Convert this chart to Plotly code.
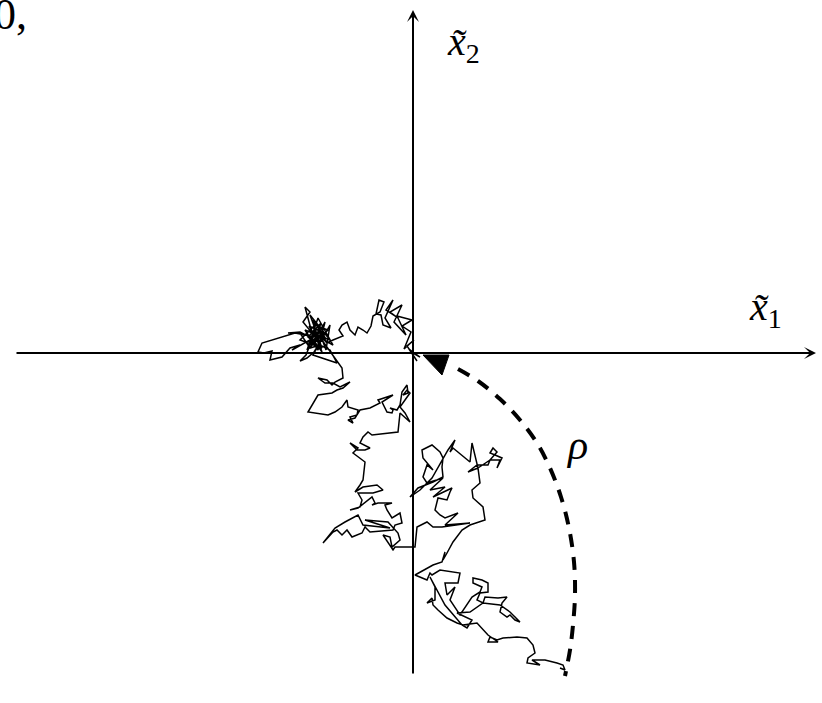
import plotly.graph_objects as go

# Sampled positions of the Brownian path (origin = crossing of the axes)
walk_pts = [
    (0, 0), (7, -4), (-4, 4), (4, -8), (-6, 7), (1, 13), (-9, 4), (-2, 21), (-11, 27), (-1, 33),
    (-16, 37), (-7, 18), (-19, 31), (-11, 48), (-23, 41), (-15, 35), (-27, 43), (-20, 53), (-28, 35),
    (-22, 25), (-30, 28), (-32, 38), (-37, 39), (-34, 53), (-29, 51), (-33, 41), (-40, 37), (-42, 27),
    (-46, 20), (-50, 23),
    (-55, 26), (-58, 18), (-63, 23), (-66, 31), (-71, 28), (-74, 23), (-70, 17), (-80, 13), (-86, 10),
    (-93, 18), (-101, 8), (-88, 31), (-95, 3), (-108, 23), (-83, 13), (-103, 38), (-91, 5), (-113, 13),
    (-98, 28), (-85, 23), (-106, 3), (-95, 35), (-80, 8), (-101, 20), (-108, 46), (-103, 41), (-110, 31),
    (-96, 14), (-104, 27), (-89, 20), (-99, 10), (-92, 30), (-105, 16), (-94, 6), (-100, 33), (-87, 14),
    (-118, 20), (-151, 10), (-155, 1), (-149, 0), (-141, 2), (-143, -7), (-131, -4), (-123, 5), (-113, 8),
    (-121, 3), (-103, 13), (-97, 23), (-107, -2), (-113, -8), (-106, -5), (-99, 1), (-90, 15), (-95, 25),
    (-87, 3), (-83, 28), (-93, 11), (-100, -2), (-76, -10), (-83, 3), (-93, 8), (-103, 5), (-113, 20),
    (-125, 20), (-113, 21), (-101, 15), (-91, 1), (-97, 18), (-90, 26), (-102, 9), (-94, 17),
    (-75, -10), (-71, -15), (-70, -25),
    (-78, -29), (-81, -32), (-86, -27), (-95, -25), (-88, -30), (-80, -30), (-73, -34), (-63, -29),
    (-70, -35), (-76, -37), (-81, -40), (-95, -42), (-105, -59), (-85, -62), (-78, -59), (-71, -54),
    (-66, -47), (-65, -54), (-55, -57), (-56, -62), (-63, -64), (-60, -70), (-65, -67), (-58, -65),
    (-53, -57), (-43, -55), (-33, -50), (-35, -47), (-20, -42), (-31, -49), (-26, -59), (-21, -60),
    (-20, -57), (-23, -55), (-16, -57), (-13, -52), (-11, -39), (-6, -32), (-5, -40), (-10, -42),
    (-6, -37), (-3, -40), (-13, -54), (-8, -60), (-3, -69), (-13, -60), (-15, -79), (-41, -82),
    (-45, -79), (-50, -84), (-53, -90), (-43, -95), (-48, -97), (-56, -97), (-63, -90), (-55, -95),
    (-60, -100), (-48, -109), (-50, -127),
    (-53, -132), (-58, -139), (-50, -134), (-36, -132), (-30, -137), (-40, -140), (-46, -140), (-55, -140),
    (-51, -147), (-53, -154), (-63, -157), (-55, -155), (-41, -144), (-38, -150), (-41, -152), (-35, -150),
    (-21, -150), (-28, -152), (-26, -157), (-21, -165), (-13, -160), (-11, -170), (-18, -172), (-20, -177),
    (-43, -179), (-48, -174), (-51, -180), (-61, -184), (-66, -177), (-71, -182), (-76, -177), (-80, -179),
    (-90, -190), (-78, -175), (-68, -169), (-55, -162), (-50, -172), (-23, -175), (-48, -167), (-25, -169),
    (-15, -180), (-13, -187), (-21, -194), (-23, -184), (-30, -182), (-25, -189), (-20, -197), (-18, -194),
    (2, -194), (4, -174), (14, -169),
    (20, -174), (29, -174), (57, -170), (32, -172), (45, -160), (32, -165), (27, -162), (22, -157),
    (25, -145), (34, -147), (37, -139), (39, -135), (20, -144), (32, -134), (17, -137), (30, -125),
    (14, -130), (10, -124), (14, -112), (20, -117), (10, -105), (9, -97), (19, -92), (27, -99), (30, -105),
    (29, -114), (30, -124), (20, -129), (5, -135), (-3, -144), (7, -137), (19, -125), (35, -97), (42, -87),
    (37, -99), (40, -95), (57, -109), (59, -90), (65, -115), (55, -119), (64, -112), (75, -112), (77, -107),
    (87, -107), (84, -115), (89, -105), (82, -102), (77, -100), (80, -95), (84, -99), (77, -107), (65, -115),
    (67, -130), (59, -137), (60, -145), (70, -154), (72, -167), (57, -172), (49, -177), (40, -189),
    (34, -200), (30, -207),
    (32, -199), (29, -209), (20, -212), (2, -222), (14, -227), (17, -220), (19, -222), (27, -217),
    (47, -220), (45, -230), (32, -230), (34, -242), (42, -234), (37, -247), (47, -262), (59, -244),
    (67, -239), (69, -234), (60, -230), (60, -225), (69, -227), (75, -230), (75, -239), (67, -240),
    (64, -247), (70, -250), (72, -244), (85, -245), (94, -244), (89, -250), (87, -259), (94, -264),
    (97, -262), (102, -267), (107, -269), (97, -259), (87, -252), (70, -250), (57, -259), (44, -260),
    (59, -267), (54, -275), (49, -272), (32, -252), (17, -224), (22, -234), (22, -247), (14, -250),
    (19, -245), (20, -252), (25, -257), (34, -265), (44, -270), (50, -272), (64, -270), (70, -277),
    (75, -282), (85, -289), (75, -289), (77, -284), (84, -287), (90, -285), (104, -284), (114, -285),
    (120, -292), (122, -300), (115, -305), (114, -310), (127, -312), (119, -307), (132, -307),
    (144, -310), (150, -312), (152, -317), (147, -315),
]
walk_x = [p[0] for p in walk_pts]
walk_y = [p[1] for p in walk_pts]

# Dashed arc marking the distance rho
arc_x = [45, 65, 87, 107, 124, 137, 148, 156, 161, 162, 160, 157, 152]
arc_y = [-16, -28, -46, -67, -90, -115, -144, -175, -209, -242, -272, -297, -323]

# Filled wedge at the start of the arc
wedge_x = [10, 36, 29, 10]
wedge_y = [-2, -2, -22, -2]

# Axis extents (data units)
X_MIN, X_MAX = -398, 403
Y_MIN, Y_MAX = -322, 343

# Label anchors
label_x1 = (352, 44)
label_x2 = (50, 309)
label_rho = (164, -92)

SERIF = "'Liberation Serif', serif"


def axis_label(idx):
    return ("<i>x\u0303</i><sub><span style='font-size:28px'>%d</span></sub>" % idx)


fig = go.Figure()

fig.add_trace(go.Scatter(
    x=walk_x, y=walk_y, mode="lines",
    line=dict(color="black", width=1.5),
    hoverinfo="skip",
))

fig.add_trace(go.Scatter(
    x=arc_x, y=arc_y, mode="lines",
    line=dict(color="black", width=4, dash="13px,10px", shape="spline"),
    hoverinfo="skip",
))

fig.add_trace(go.Scatter(
    x=wedge_x, y=wedge_y, mode="lines", fill="toself",
    fillcolor="black", line=dict(color="black", width=1),
    hoverinfo="skip",
))

# coordinate axes with arrow heads
fig.add_annotation(x=X_MAX, y=0, ax=X_MIN, ay=0, xref="x", yref="y", axref="x", ayref="y",
                   showarrow=True, arrowhead=3, arrowsize=1, arrowwidth=2, arrowcolor="black", text="")
fig.add_annotation(x=0, y=Y_MAX, ax=0, ay=Y_MIN, xref="x", yref="y", axref="x", ayref="y",
                   showarrow=True, arrowhead=3, arrowsize=1, arrowwidth=2, arrowcolor="black", text="")

fig.add_annotation(x=label_x1[0], y=label_x1[1], xref="x", yref="y", showarrow=False,
                   text=axis_label(1), font=dict(family=SERIF, size=40, color="black"))
fig.add_annotation(x=label_x2[0], y=label_x2[1], xref="x", yref="y", showarrow=False,
                   text=axis_label(2), font=dict(family=SERIF, size=40, color="black"))
fig.add_annotation(x=label_rho[0], y=label_rho[1], xref="x", yref="y", showarrow=False,
                   text="<i>\u03c1</i>", font=dict(family=SERIF, size=42, color="black"))

# panel tag in the corner
fig.add_annotation(x=0, y=1, xref="paper", yref="paper", xanchor="left", yanchor="top",
                   xshift=-8, yshift=12, showarrow=False,
                   text="0,", font=dict(family=SERIF, size=44, color="black"))

fig.update_layout(
    width=822, height=703,
    margin=dict(l=0, r=0, t=0, b=0),
    paper_bgcolor="white", plot_bgcolor="white",
    showlegend=False,
    xaxis=dict(range=[-413, 409], visible=False, fixedrange=True),
    yaxis=dict(range=[-350, 353], visible=False, fixedrange=True),
)

fig.write_html("out.html")
